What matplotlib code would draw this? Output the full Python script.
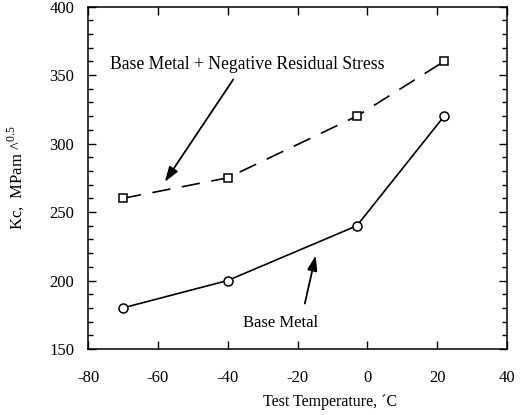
import matplotlib
matplotlib.use("Agg")
import matplotlib.pyplot as plt
from matplotlib.ticker import MultipleLocator

temps = [-70, -40, -3, 22]
base_metal = [180, 200, 240, 320]
base_neg_stress = [260, 275, 320, 360]
xticks = [-80, -60, -40, -20, 0, 20, 40]
yticks = [150, 200, 250, 300, 350, 400]

plt.rcParams['font.family'] = ['Liberation Serif', 'DejaVu Serif']
plt.rcParams['mathtext.fontset'] = 'custom'
plt.rcParams['mathtext.rm'] = 'Liberation Serif'
plt.rcParams['axes.unicode_minus'] = False

fig = plt.figure(figsize=(5.28, 4.15), dpi=100)
ax = fig.add_axes([88/528, 1-349/415, (507-88)/528, (349-6.6)/415])

ax.plot(temps, base_metal, '-', color='black', lw=1.2, marker='o', ms=6.5,
        mfc='white', mec='black', mew=1.1)
ax.plot(temps, base_neg_stress, color='black', lw=1.2, linestyle=(0, (11, 7)),
        marker='s', ms=6, mfc='white', mec='black', mew=1.1)

ax.set_xlim(-80, 40)
ax.set_ylim(150, 400)
ax.set_xticks(xticks)
ax.set_yticks(yticks)
ax.yaxis.set_minor_locator(MultipleLocator(10))
ax.tick_params(which='both', direction='in', top=True, right=True, labelsize=12, width=1.0)
ax.tick_params(which='major', length=6)
ax.tick_params(which='minor', length=3.5)
ax.tick_params(axis='x', pad=15)
ax.tick_params(axis='y', pad=10)
for s in ax.spines.values():
    s.set_linewidth(1.1)

ax.set_xlabel('Test Temperature, \u00b4C', fontsize=11.5)
ax.xaxis.set_label_coords((330-88)/419, -0.13)
ax.set_ylabel('Kc,  MPam ^$^{0.5}$', fontsize=12)
ax.yaxis.set_label_coords(-0.145, 0.5)

ax.text(-34.4, 358, 'Base Metal + Negative Residual Stress', fontsize=12.7,
        ha='center', va='center')
ax.annotate('', xy=(-58, 272), xytext=(-38.4, 346.8),
            arrowprops=dict(arrowstyle='-|>,head_length=0.9,head_width=0.3',
                            color='black', lw=1.3, shrinkA=0, shrinkB=0))
ax.text(-24.8, 169.3, 'Base Metal', fontsize=12, ha='center', va='center')
ax.annotate('', xy=(-14.8, 218.3), xytext=(-17.9, 183.2),
            arrowprops=dict(arrowstyle='-|>,head_length=0.9,head_width=0.3',
                            color='black', lw=1.3, shrinkA=0, shrinkB=0))

fig.savefig('out.png', dpi=100)
